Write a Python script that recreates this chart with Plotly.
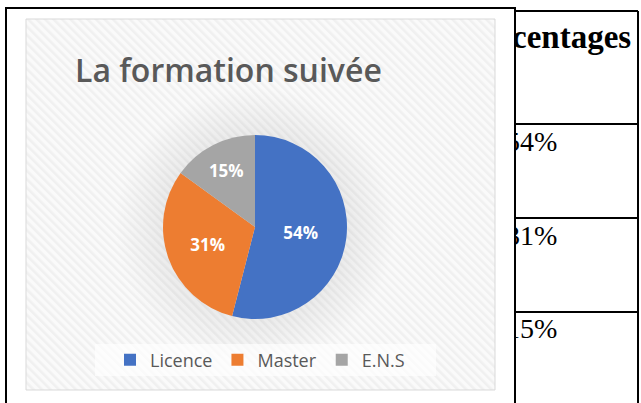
import base64
import plotly.graph_objects as go

# ---- data ----
categories = ["Licence", "Master", "E.N.S"]
values = [54, 31, 15]
colors = ["#4472C4", "#ED7D31", "#A5A5A5"]
title_text = "La formation suivée"
table_header = "Pourcentages"
table_values = ["54%", "31%", "15%"]

W, H = 641, 403


def px(x):
    return x / W


def py(y):
    return 1 - y / H


# chart area (pixels)
ax0, ay0, ax1, ay1 = 26, 19, 495, 390
cw, ch = ax1 - ax0, ay1 - ay0
pcx, pcy, pr = 255, 227, 92

svg = f'''<svg xmlns="http://www.w3.org/2000/svg" width="{cw}" height="{ch}" viewBox="0 0 {cw} {ch}">
<defs>
<pattern id="p" width="6" height="6" patternUnits="userSpaceOnUse" patternTransform="rotate(-45)">
<rect width="6" height="6" fill="#fafafa"/>
<rect width="2.6" height="6" fill="#f0f0f0"/>
</pattern>
<radialGradient id="g" gradientUnits="userSpaceOnUse" cx="{pcx-ax0}" cy="{pcy-ay0}" r="140">
<stop offset="0.6" stop-color="#000" stop-opacity="0.07"/>
<stop offset="1" stop-color="#000" stop-opacity="0"/>
</radialGradient>
</defs>
<rect width="{cw}" height="{ch}" fill="url(#p)"/>
<rect width="{cw}" height="{ch}" fill="url(#g)"/>
</svg>'''
src = "data:image/svg+xml;base64," + base64.b64encode(svg.encode()).decode()

fig = go.Figure()

fig.add_trace(go.Pie(
    labels=categories,
    values=values,
    marker=dict(colors=colors, line=dict(width=0)),
    sort=False,
    direction="clockwise",
    rotation=0,
    textinfo="percent",
    textposition="inside",
    insidetextorientation="horizontal",
    textfont=dict(family="Open Sans", size=17, color="white", weight="bold"),
    domain=dict(x=[px(pcx - pr), px(pcx + pr)], y=[py(pcy + pr), py(pcy - pr)]),
    hoverinfo="skip",
    showlegend=True,
))

# table text (clipped at the table's left border)
fig.add_trace(go.Scatter(
    x=[443, 506, 506, 506],
    y=[40, 144, 238, 331],
    mode="text",
    text=["<b>" + table_header + "</b>"] + table_values,
    textposition="middle right",
    textfont=dict(family="Liberation Serif", size=[33, 28, 28, 28], color="black"),
    cliponaxis=True,
    showlegend=False,
    hoverinfo="skip",
    xaxis="x", yaxis="y",
))

shapes = [
    # chart area border
    dict(type="rect", xref="paper", yref="paper", x0=px(ax0), x1=px(ax1), y0=py(ay1), y1=py(ay0),
         line=dict(color="#d9d9d9", width=1), fillcolor="rgba(0,0,0,0)", layer="below"),
    # legend background
    dict(type="rect", xref="paper", yref="paper", x0=px(95), x1=px(436), y0=py(376), y1=py(344),
         line=dict(width=0), fillcolor="rgba(255,255,255,0.65)", layer="below"),
    # black frame of the chart object
    dict(type="rect", xref="paper", yref="paper", x0=px(6), x1=px(515), y0=py(430), y1=py(8),
         line=dict(color="black", width=2), fillcolor="rgba(0,0,0,0)", layer="above"),
]
# table lines
for x in (515, 638):
    shapes.append(dict(type="line", xref="paper", yref="paper", x0=px(x), x1=px(x), y0=py(430), y1=py(11),
                       line=dict(color="black", width=2)))
for y in (11, 124, 218, 312):
    shapes.append(dict(type="line", xref="paper", yref="paper", x0=px(515), x1=px(638), y0=py(y), y1=py(y),
                       line=dict(color="black", width=2)))

fig.update_layout(
    width=W, height=H, autosize=False,
    margin=dict(l=0, r=0, t=0, b=0, pad=0),
    paper_bgcolor="white",
    plot_bgcolor="rgba(0,0,0,0)",
    xaxis=dict(domain=[px(515), px(638)], range=[515, 638], visible=False, fixedrange=True),
    yaxis=dict(domain=[0, 1], range=[H, 0], visible=False, fixedrange=True),
    images=[dict(source=src, xref="paper", yref="paper", x=px(ax0), y=py(ay0),
                 sizex=cw / W, sizey=ch / H, xanchor="left", yanchor="top",
                 sizing="stretch", layer="below")],
    shapes=shapes,
    annotations=[dict(text=title_text, xref="paper", yref="paper", x=px(73), y=py(70),
                      xanchor="left", yanchor="middle", showarrow=False,
                      font=dict(family="Open Sans", size=32, color="#595959", weight=600))],
    legend=dict(orientation="h", x=px(110), xanchor="left", y=py(360), yanchor="middle",
                font=dict(family="Open Sans", size=18, color="#595959"),
                bgcolor="rgba(0,0,0,0)", traceorder="normal"),
)

fig.write_html(
    "out.html",
    config={"displayModeBar": False},
    post_script="document.body.style.margin='0';document.body.style.overflow='hidden';",
)
